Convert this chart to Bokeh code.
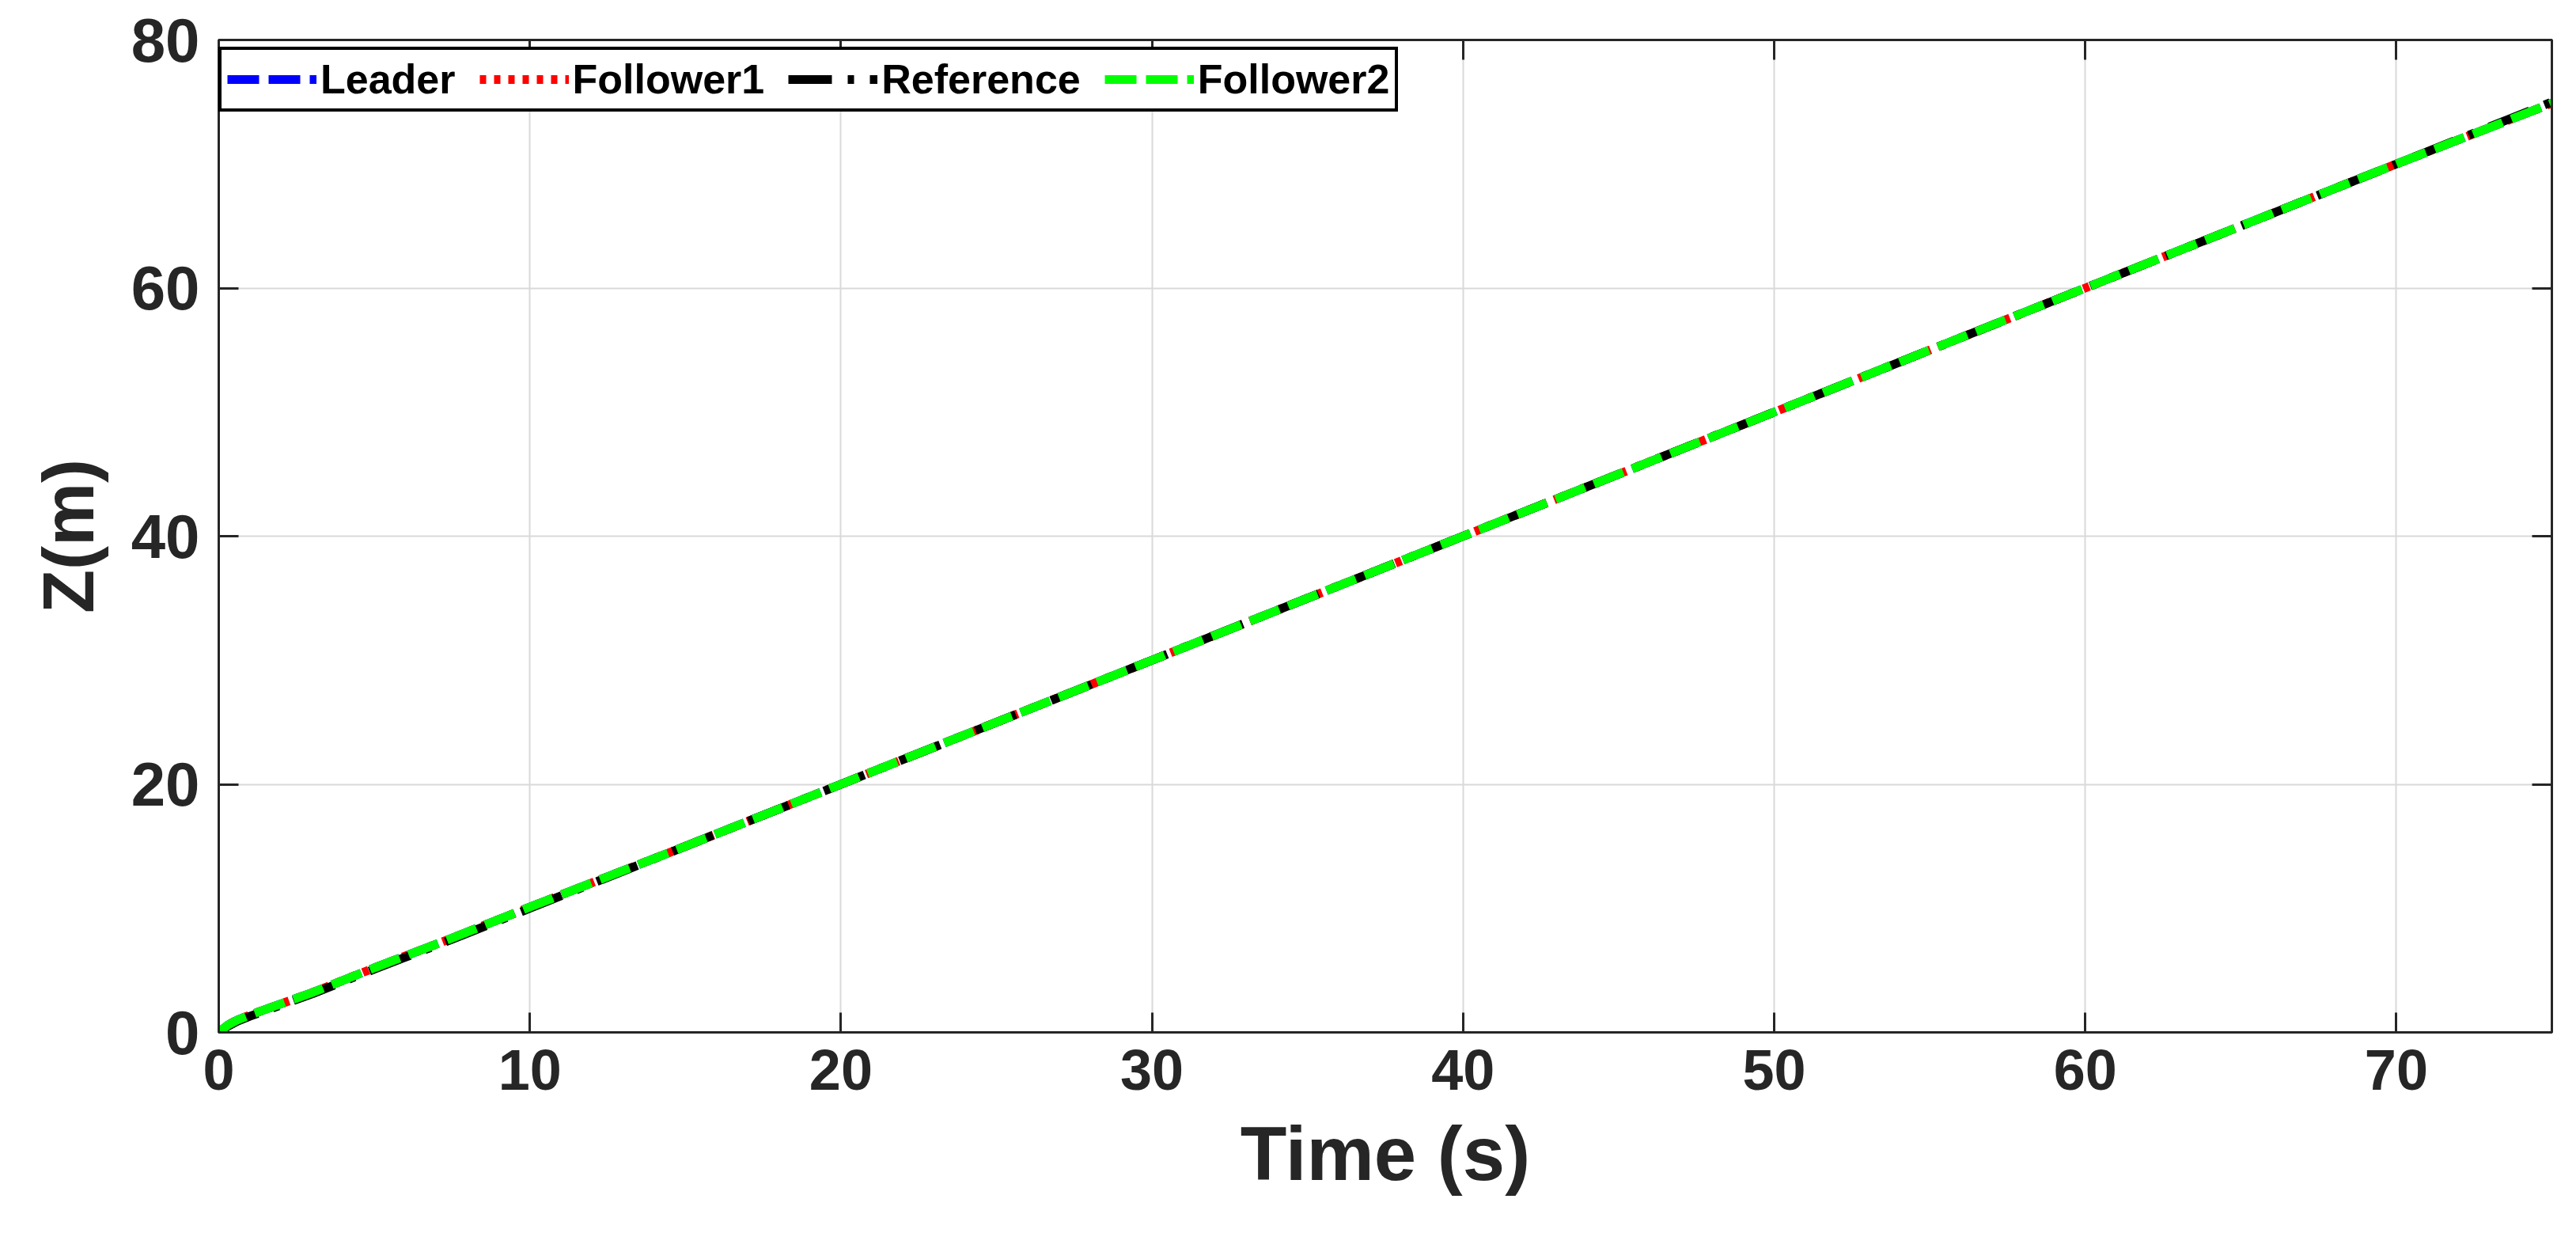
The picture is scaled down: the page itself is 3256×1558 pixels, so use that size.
from bokeh.plotting import figure
from bokeh.models import Range1d, LinearAxis, FixedTicker, Legend
from bokeh.embed import file_html
from bokeh.resources import INLINE

# ---- data ----
time = [0, 0.3, 0.6, 1, 2, 3, 5, 7.5, 10, 15, 20, 25, 30, 35, 40, 45, 50, 55, 60, 65, 70, 75]
leader_z = [0, 0.6, 1.0, 1.4, 2.3, 3.2, 5.2, 7.6, 10.1, 15.0, 20.0, 25.0, 30.0, 35.0, 40.0, 45.0, 50.0, 55.0, 60.0, 65.0, 70.0, 74.9]
follower1_z = [0, 0.6, 1.0, 1.4, 2.3, 3.2, 5.2, 7.6, 10.1, 15.0, 20.0, 25.0, 30.0, 35.0, 40.0, 45.0, 50.0, 55.0, 60.0, 65.0, 70.0, 74.9]
reference_z = [0, 0.5, 0.9, 1.3, 2.2, 3.1, 5.1, 7.5, 10.0, 15.0, 20.0, 25.0, 30.0, 35.0, 40.0, 45.0, 50.0, 55.0, 60.0, 65.0, 70.0, 75.0]
follower2_z = [0, 0.6, 1.0, 1.4, 2.3, 3.2, 5.2, 7.6, 10.1, 15.0, 20.0, 25.0, 30.0, 35.0, 40.0, 45.0, 50.0, 55.0, 60.0, 65.0, 70.0, 74.9]

x_ticks = [0, 10, 20, 30, 40, 50, 60, 70]
y_ticks = [0, 20, 40, 60, 80]
series_names = ["Leader", "Follower1", "Reference", "Follower2"]

FONT = "Liberation Sans"
AX = "#262626"

p = figure(frame_width=2949, frame_height=1254,
           x_range=Range1d(0, 75), y_range=Range1d(0, 80),
           output_backend="svg", toolbar_location=None,
           min_border_left=276, min_border_right=15,
           min_border_top=50, min_border_bottom=238,
           background_fill_color="white", border_fill_color="white")

p.outline_line_color = AX
p.outline_line_width = 3

styles = [
    (leader_z, "#0000ff", "40 12"),
    (follower1_z, "#ff0000", "8 10"),
    (reference_z, "#000000", "55 20 8 20"),
    (follower2_z, "#00ff00", "40 12"),
]
renderers = []
for (z, col, dash), name in zip(styles, series_names):
    r = p.line(time, z, line_color=col, line_width=11, line_dash=dash)
    renderers.append((name, [r]))

# axes
for ax in (p.xaxis[0], p.yaxis[0]):
    ax.axis_line_color = AX
    ax.axis_line_width = 3
    ax.major_tick_line_color = AX
    ax.major_tick_line_width = 3
    ax.major_tick_in = 25
    ax.major_tick_out = 0
    ax.minor_tick_line_color = None
    ax.major_label_text_font = FONT
    ax.major_label_text_font_style = "bold"
    ax.major_label_text_color = AX
    ax.axis_label_text_font = FONT
    ax.axis_label_text_font_style = "bold"
    ax.axis_label_text_color = AX

p.xaxis[0].ticker = FixedTicker(ticks=x_ticks)
p.yaxis[0].ticker = FixedTicker(ticks=y_ticks)
p.xaxis[0].major_label_text_font_size = "72px"
p.yaxis[0].major_label_text_font_size = "78px"
p.xaxis[0].major_label_standoff = 22
p.yaxis[0].major_label_standoff = 24
p.xaxis[0].axis_label = "Time (s)"
p.yaxis[0].axis_label = "Z(m)"
p.xaxis[0].axis_label_text_font_size = "96px"
p.yaxis[0].axis_label_text_font_size = "90px"
p.xaxis[0].axis_label_standoff = 24
p.yaxis[0].axis_label_standoff = 26

# box axes (top / right) with inward ticks, no labels
empty_x = {t: "" for t in x_ticks}
empty_y = {t: "" for t in y_ticks}
top = LinearAxis(ticker=FixedTicker(ticks=x_ticks), major_label_overrides=empty_x,
                 major_label_text_font_size="10px",
                 major_label_standoff=0, axis_line_color=AX, axis_line_width=3,
                 major_tick_line_color=AX, major_tick_line_width=3,
                 major_tick_in=25, major_tick_out=0, minor_tick_line_color=None)
right = LinearAxis(ticker=FixedTicker(ticks=y_ticks), major_label_overrides=empty_y,
                   major_label_text_font_size="10px",
                   major_label_standoff=0, axis_line_color=AX, axis_line_width=3,
                   major_tick_line_color=AX, major_tick_line_width=3,
                   major_tick_in=25, major_tick_out=0, minor_tick_line_color=None)
p.add_layout(top, "above")
p.add_layout(right, "right")

# grid
p.xgrid.ticker = FixedTicker(ticks=x_ticks)
p.ygrid.ticker = FixedTicker(ticks=y_ticks)
for g in (p.xgrid[0], p.ygrid[0]):
    g.grid_line_color = "#d9d9d9"
    g.grid_line_width = 2

legend = Legend(items=renderers, orientation="horizontal", location=(0, 1163),
                label_text_font=FONT, label_text_font_style="bold",
                label_text_font_size="52px", label_text_color="black",
                glyph_width=113, glyph_height=50, label_standoff=5,
                spacing=30, padding=7, margin=0,
                border_line_color="#000000", border_line_width=4,
                border_line_alpha=1.0,
                background_fill_color="white", background_fill_alpha=1.0)
p.add_layout(legend, "center")

open("out.html", "w").write(file_html(p, INLINE))
